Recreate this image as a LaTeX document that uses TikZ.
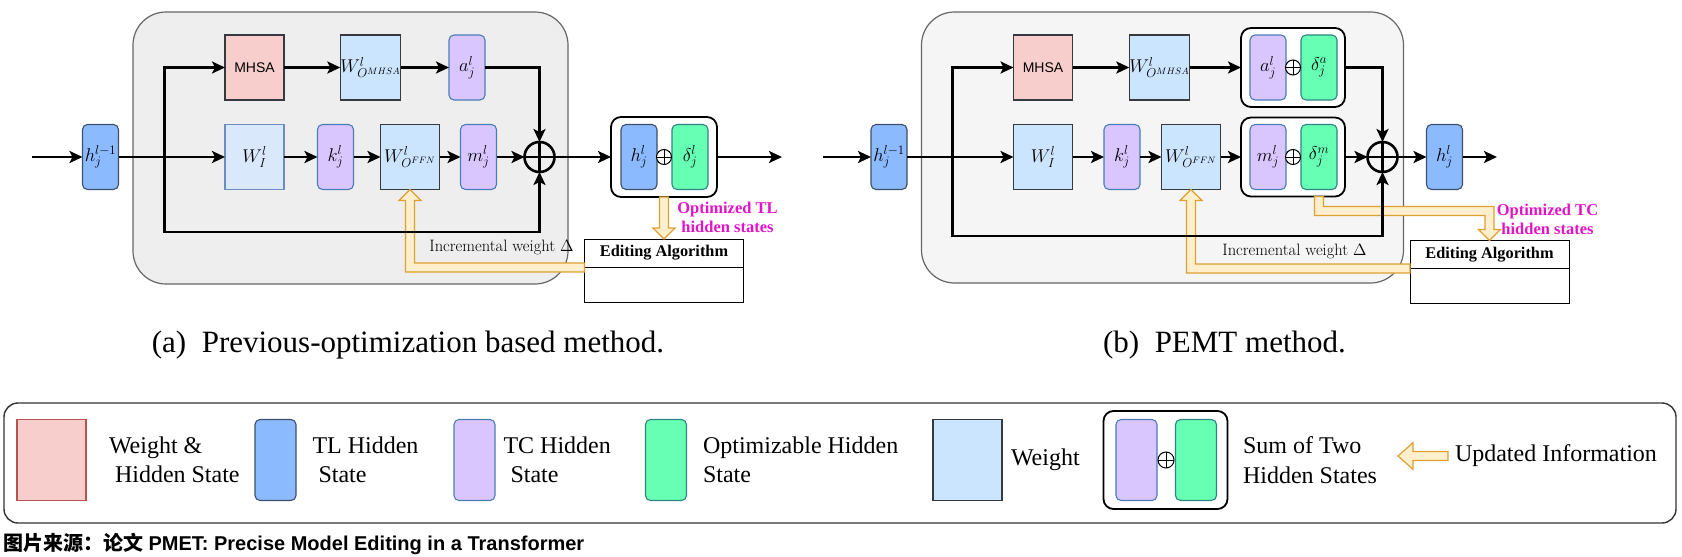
\RequirePackage{fix-cm}
\documentclass[tikz,border=0pt]{standalone}
\usepackage{fontspec}
\newfontfamily\tms{Liberation Serif}
\newfontfamily\arl{Liberation Sans}
\newfontfamily\cjk{Noto Sans CJK SC}
\usetikzlibrary{arrows.meta,positioning,calc}

\definecolor{tlfill}{HTML}{8CBAFF}
\definecolor{tlline}{HTML}{3D5068}
\definecolor{tcfill}{HTML}{DAC6FF}
\definecolor{tcline}{HTML}{4A7DB4}
\definecolor{ogfill}{HTML}{66FFB3}
\definecolor{ogline}{HTML}{2F8585}
\definecolor{wfill}{HTML}{CCE5FF}
\definecolor{wline}{HTML}{36393D}
\definecolor{wifill}{HTML}{DAE8FC}
\definecolor{wiline}{HTML}{6C8EBF}
\definecolor{pkfill}{HTML}{F8CECC}
\definecolor{pkline}{HTML}{B85450}
\definecolor{bga}{HTML}{EEEEEE}
\definecolor{bgb}{HTML}{F5F5F5}
\definecolor{bgline}{HTML}{666666}
\definecolor{orgline}{HTML}{DDA032}
\definecolor{orgfill}{HTML}{FFEFCC}
\definecolor{mag}{HTML}{E214C6}

\newcommand\mth{\fontsize{18.5}{21}\selectfont}
\newcommand\lgt{\tms\fontsize{24}{29.5}\selectfont}

\begin{document}
\begin{tikzpicture}[x=1pt,y=-1pt,>={Stealth[length=13pt,width=12pt,inset=3pt]},
  every node/.style={inner sep=0pt,outer sep=0pt},
  ln/.style={->,line width=2.6pt},
  wt/.style={rectangle,draw=wline,fill=wfill,line width=1.1pt,minimum width=59pt,minimum height=65pt,font=\mth},
  wi/.style={wt,draw=wiline,fill=wifill},
  pk/.style={wt,draw=pkline,fill=pkfill},
  tl/.style={rectangle,rounded corners=5pt,draw=tlline,fill=tlfill,line width=1.1pt,minimum width=36pt,minimum height=65pt,font=\mth},
  tc/.style={tl,draw=tcline,fill=tcfill},
  og/.style={tl,draw=ogline,fill=ogfill},
  grp/.style={rectangle,rounded corners=10pt,draw,fill=white,line width=1.8pt,minimum width=106pt,minimum height=80pt},
  opl/.style={circle,draw,line width=2.6pt,minimum size=30pt,
    path picture={\draw[line width=2.6pt] (path picture bounding box.north) -- (path picture bounding box.south)
      (path picture bounding box.west) -- (path picture bounding box.east);}},
  ops/.style={circle,draw,fill=white,line width=1pt,minimum size=15pt,
    path picture={\draw[line width=1pt] (path picture bounding box.north) -- (path picture bounding box.south)
      (path picture bounding box.west) -- (path picture bounding box.east);}},
  edh/.style={rectangle,draw,line width=1pt,minimum width=159pt,minimum height=28pt,font=\tms\bfseries\fontsize{16.3}{19}\selectfont},
  edb/.style={rectangle,draw,line width=1pt,minimum width=159pt,minimum height=35pt},
  upd/.style={draw=orgline,fill=orgfill,line width=1.2pt},
  otxt/.style={align=center,text=mag,font=\tms\bfseries\fontsize{16.5}{19}\selectfont},
  inc/.style={font=\fontsize{16.5}{19}\selectfont},
  lt/.style={anchor=west,align=left,font=\lgt}]

\useasboundingbox (0,0) rectangle (1682,557);

% (a)
\draw[fill=bga,draw=bgline,line width=1.2pt,rounded corners=33pt] (133,12) rectangle (568,284);
\coordinate (ina) at (32,157);
\coordinate (bra) at (164.5,157);
\coordinate (bota) at (164.5,232);
\coordinate (outa) at (782,157);
\node[tl] (ha) at (100.5,157) {$h_j^{l-1}$};
\node[pk,draw=wline] (mhsaa) at (254.5,67.5) {\arl\fontsize{14}{16}\selectfont MHSA};
\node[wt] (woma) at (370.5,67.5) {$W^l_{O^{MHSA}}$};
\node[tc] (aa) at (467,67.5) {$a_j^l$};
\node[wi] (wia) at (254.5,157) {$W_I^l$};
\node[tc] (ka) at (335.5,157) {$k_j^l$};
\node[wt] (wofa) at (410,157) {$W^l_{O^{FFN}}$};
\node[tc] (ma) at (478.5,157) {$m_j^l$};
\node[opl] (opa) at (539.5,157) {};
\node[grp] (ga) at (664,157) {};
\node[tl] (hla) at (639,157) {$h_j^l$};
\node[og] (dla) at (690,157) {$\delta_j^l$};
\node[ops] (spa) at (664,157) {};
\node[edh] (edha) at (664,253) {Editing Algorithm};
\node[edb] (edba) [below=0pt of edha] {};
\node[inc] (inca) at (501.5,247) {Incremental weight $\Delta$};
\node[otxt] (opta) at (727.5,217.5) {Optimized TL\\hidden states};

\path[upd] ($(ga.south)+(-4.5,0)$) -- ($(edha.north)+(-4.5,-11)$) -- ($(edha.north)+(-11,-11)$) -- (edha.north)
  -- ($(edha.north)+(11,-11)$) -- ($(edha.north)+(4.5,-11)$) -- ($(ga.south)+(4.5,0)$) -- cycle;
\path[upd] ($(edha.south west)+(0,-4)$) -- ($(wofa.south |- edha.south)+(4.5,-4)$) -- ($(wofa.south)+(4.5,11)$)
  -- ($(wofa.south)+(11,11)$) -- (wofa.south) -- ($(wofa.south)+(-11,11)$) -- ($(wofa.south)+(-4.5,11)$)
  -- ($(wofa.south |- edha.south)+(-4.5,5)$) -- ($(edha.south west)+(0,5)$) -- cycle;

\path[ln]
  (ina) edge (ha)
  (ha) edge (wia)
  (mhsaa) edge (woma)
  (woma) edge (aa)
  (wia) edge (ka)
  (ka) edge (wofa)
  (wofa) edge (ma)
  (ma) edge (opa)
  (opa) edge (ga)
  (ga) edge (outa);
\draw[ln,<->] (opa) |- (bota) |- (mhsaa);
\draw[ln] (aa) -| (opa);

% (b)
\draw[fill=bgb,draw=bgline,line width=1.2pt,rounded corners=33pt] (921.5,12) rectangle (1403.5,283);
\coordinate (inb) at (823,157);
\coordinate (botb) at (952.5,236);
\coordinate (outb) at (1497,157);
\node[tl] (hb) at (889,157) {$h_j^{l-1}$};
\node[pk,draw=wline] (mhsab) at (1043,67.5) {\arl\fontsize{14}{16}\selectfont MHSA};
\node[wt] (womb) at (1159.5,67.5) {$W^l_{O^{MHSA}}$};
\node[grp,minimum width=104pt,minimum height=79pt] (gab) at (1293,67.5) {};
\node[tc] (ab) at (1268,67.5) {$a_j^l$};
\node[og] (dab) at (1319,67.5) {$\delta_j^a$};
\node[ops] (spab) at (1293,67.5) {};
\node[wt] (wib) at (1043,157) {$W_I^l$};
\node[tc] (kb) at (1122,157) {$k_j^l$};
\node[wt] (wofb) at (1191,157) {$W^l_{O^{FFN}}$};
\node[grp,minimum width=104pt,minimum height=79pt] (gmb) at (1293,157) {};
\node[tc] (mb) at (1268,157) {$m_j^l$};
\node[og] (dmb) at (1319,157) {$\delta_j^m$};
\node[ops] (spmb) at (1293,157) {};
\node[opl] (opb) at (1382.5,157) {};
\node[tl] (hob) at (1444.5,157) {$h_j^l$};
\node[edh] (edhb) at (1489.5,254.5) {Editing Algorithm};
\node[edb] (edbb) [below=0pt of edhb] {};
\node[inc] (incb) at (1294.5,251) {Incremental weight $\Delta$};
\node[otxt] (optb) at (1547.5,219) {Optimized TC\\hidden states};

\path[upd] ($(dmb.south |- gmb.south)+(-4.5,0)$) -- ($(dmb.south |- gmb.south)+(-4.5,19)$)
  -- ($(edhb.north |- gmb.south)+(-4.5,19)$) -- ($(edhb.north)+(-4.5,-11)$) -- ($(edhb.north)+(-11,-11)$)
  -- (edhb.north) -- ($(edhb.north)+(11,-11)$) -- ($(edhb.north)+(4.5,-11)$)
  -- ($(edhb.north |- gmb.south)+(4.5,10)$) -- ($(dmb.south |- gmb.south)+(4.5,10)$)
  -- ($(dmb.south |- gmb.south)+(4.5,0)$) -- cycle;
\path[upd] ($(edhb.south west)+(0,-4.5)$) -- ($(wofb.south |- edhb.south)+(4.5,-4.5)$) -- ($(wofb.south)+(4.5,11)$)
  -- ($(wofb.south)+(11,11)$) -- (wofb.south) -- ($(wofb.south)+(-11,11)$) -- ($(wofb.south)+(-4.5,11)$)
  -- ($(wofb.south |- edhb.south)+(-4.5,4.5)$) -- ($(edhb.south west)+(0,4.5)$) -- cycle;

\path[ln]
  (inb) edge (hb)
  (hb) edge (wib)
  (mhsab) edge (womb)
  (womb) edge (gab)
  (wib) edge (kb)
  (kb) edge (wofb)
  (wofb) edge (gmb)
  (gmb) edge (opb)
  (opb) edge (hob)
  (hob) edge (outb);
\draw[ln,<->] (opb) |- (botb) |- (mhsab);
\draw[ln] (gab) -| (opb);

% captions
\node[anchor=base,font=\tms\fontsize{31}{36}\selectfont] (capa) at (408,352) {(a)\enspace Previous-optimization based method.};
\node[anchor=base,font=\tms\fontsize{31}{36}\selectfont] (capb) at (1224.5,352) {(b)\enspace PEMT method.};

% legend
\draw[line width=1.4pt,draw=black!80,rounded corners=14pt] (4,403) rectangle (1676,523);
\node[pk,minimum width=69pt,minimum height=81pt] (lg1) at (51.5,460) {};
\node[lt] (lt1) at (109,460) {Weight \&\\\hspace*{6pt}Hidden State};
\node[tl,minimum width=41pt,minimum height=81pt] (lg2) at (275.5,460) {};
\node[lt] (lt2) at (312.5,460) {TL Hidden\\\hspace*{6pt}State};
\node[tc,minimum width=41pt,minimum height=81pt] (lg3) at (474.5,460) {};
\node[lt] (lt3) at (503.5,460) {TC Hidden\\\hspace*{7pt}State};
\node[og,minimum width=41pt,minimum height=81pt] (lg4) at (666,460) {};
\node[lt] (lt4) at (703,460) {Optimizable Hidden\\State};
\node[wt,minimum width=69pt,minimum height=81pt] (lg5) at (967.5,460) {};
\node[lt] (lt5) at (1011,460) {Weight};
\node[grp,minimum width=124pt,minimum height=98pt] (lg6) at (1165.5,460) {};
\node[tc,minimum width=41pt,minimum height=81pt] (lg6a) at (1136.5,460) {};
\node[og,minimum width=41pt,minimum height=81pt] (lg6b) at (1196,460) {};
\node[ops,minimum size=16pt] (lg6c) at (1166,460) {};
\node[lt] (lt6) at (1243,460) {Sum of Two\\Hidden States};
\path[upd] (1398,456) -- (1413,442.7) -- (1413,451.5) -- (1448,451.5) -- (1448,460.5) -- (1413,460.5) -- (1413,469.3) -- cycle;
\node[lt] (lt7) at (1455,456) {Updated Information};

\node[anchor=west,font=\fontsize{20}{22}\selectfont] (src) at (3,544) {\cjk\bfseries 图片来源：论文\arl\bfseries{} PMET: Precise Model Editing in a Transformer};

\end{tikzpicture}
\end{document}
